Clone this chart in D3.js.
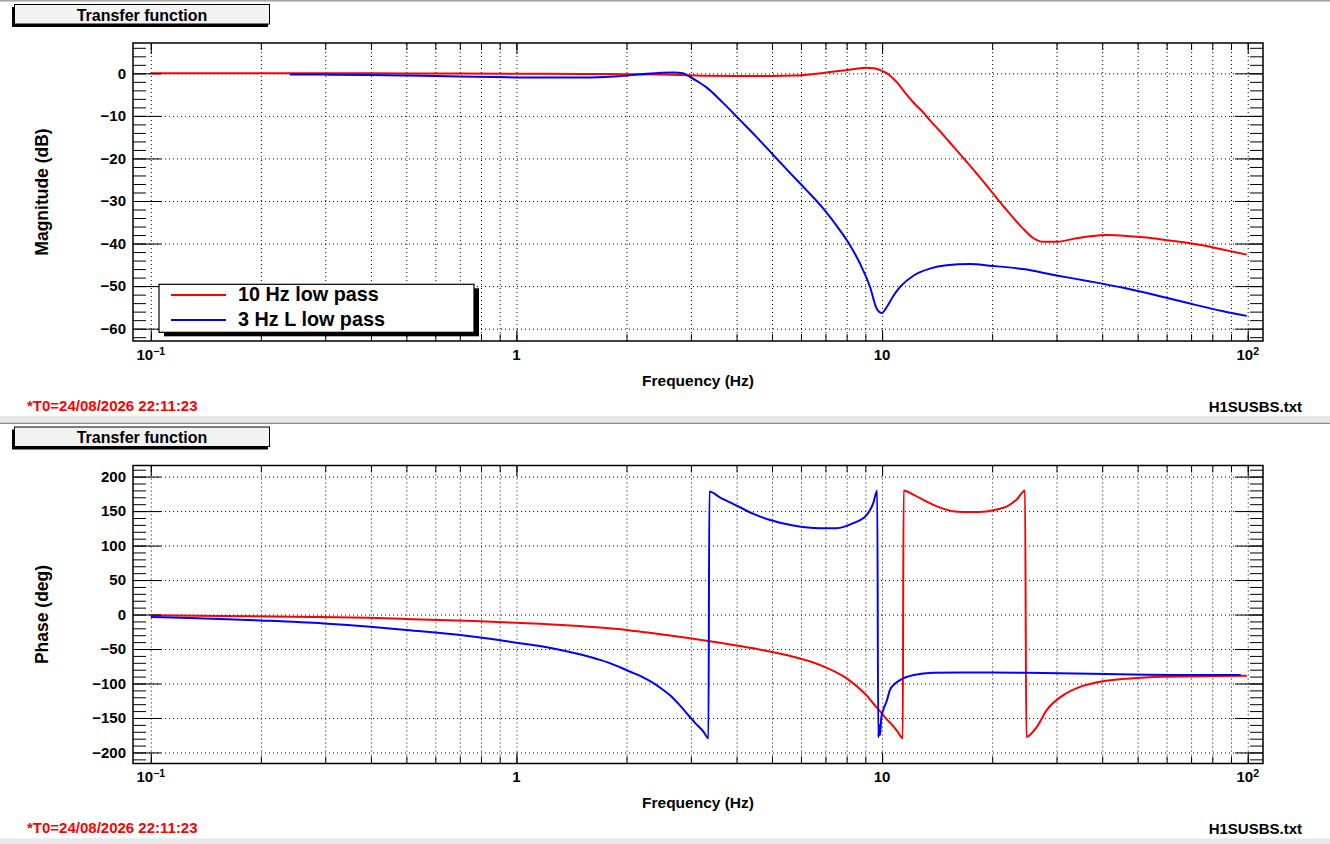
<!DOCTYPE html>
<html>
<head>
<meta charset="utf-8">
<title>Transfer function</title>
<script src="https://cdn.jsdelivr.net/npm/d3@7"></script>
<style>
  body { margin: 0; background: #fff; }
  svg { display: block; font-family: "Liberation Sans", Arial, Helvetica, sans-serif; font-weight: bold; }
  .grid line { stroke: #000; stroke-width: 1; stroke-dasharray: 1,3; }
  .grid path, .ax path { display: none; }
  .ax line { stroke: #000; stroke-width: 1; }
  .ax text { font-size: 15px; fill: #000; }
</style>
</head>
<body>
<script>

// ---- data ----
// magnitude, 10 Hz low pass (red)
var magFreqRed = [0.1, 0.2, 0.4, 0.7, 1.0, 1.5, 2.0, 2.5, 3.0, 3.3, 4.0, 5.0, 5.8, 6.5, 7.2, 7.7, 8.4, 9.05, 9.5, 9.85,
  10.2, 10.5, 11.0, 11.6, 12.2, 12.9, 13.6, 14.4, 15.2, 16.0, 17.6, 19.2, 20.8, 22.4, 24.3, 25.9, 27.6, 30.0,
  33.4, 37.1, 41.1, 46.7, 52.9, 60.0, 68.1, 77.2, 87.6, 99.4];
var magRed = [0, 0, 0, -0.05, -0.1, -0.15, -0.2, -0.25, -0.45, -0.55, -0.6, -0.6, -0.5, -0.15, 0.3, 0.6, 1.0, 1.3, 1.2, 0.8,
  0.2, -0.5, -2.2, -4.7, -6.9, -9.0, -11.3, -13.6, -15.9, -18.1, -22.2, -26.1, -29.8, -33.1, -36.5, -38.7, -39.6, -39.6,
  -38.9, -38.3, -38.0, -38.2, -38.6, -39.2, -39.8, -40.6, -41.6, -42.6];

// magnitude, 3 Hz L low pass (blue)
var magFreqBlue = [0.24, 0.3, 0.4, 0.5, 0.7, 1.0, 1.3, 1.6, 1.9, 2.2, 2.5, 2.7, 2.85, 2.98, 3.13, 3.31, 3.68, 4.09, 4.54,
  5.04, 5.6, 6.22, 6.91, 7.67, 8.17, 8.7, 9.27, 9.67, 9.98, 10.3, 10.7, 11.2, 12.2, 13.5, 15.0, 17.4, 19.7, 24.3,
  30.0, 37.1, 45.7, 56.4, 69.5, 85.7, 99.4];
var magBlue = [-0.3, -0.3, -0.4, -0.5, -0.75, -0.95, -1.0, -0.95, -0.7, -0.2, 0.15, 0.2, 0.0, -0.8, -1.9, -3.3, -7.0, -11.0, -15.0,
  -19.2, -23.4, -27.5, -31.8, -36.9, -40.4, -44.7, -50.2, -55.3, -56.3, -54.9, -52.5, -50.2, -47.5, -45.9, -45.1, -44.8, -45.2, -46.0,
  -47.5, -48.9, -50.4, -52.2, -54.1, -55.9, -57.0];

// phase, 10 Hz low pass (red)
var phFreqRed = [0.1, 0.155, 0.275, 0.394, 0.517, 0.762, 1.0, 1.4, 1.73, 2.05, 2.37, 2.92, 3.6, 4.45, 5.47, 6.76, 8.0, 8.7,
  9.1, 9.46, 9.87, 10.3, 10.7, 11.0, 11.39, 11.45, 12.2, 13.5, 14.6, 15.8, 17.5, 19.3, 21.0, 21.9, 23.3, 24.6, 24.8,
  26.5, 28.2, 31.3, 34.8, 39.4, 47.6, 58.7, 80.5, 99.4];
var phRed = [-1, -2, -3.4, -4.8, -6.7, -9.4, -12, -15.8, -19.3, -23, -27.2, -33.6, -40.9, -49, -58.7, -73.2, -92.6, -108,
  -118, -129, -140, -152, -161, -169, -179.5, 180, 173.6, 161.5, 154, 149.5, 148.5, 149.5, 153.5, 156.6, 166.3, 180, -177.4,
  -162.8, -138.6, -116.8, -104.8, -97.5, -92.6, -90.2, -89.2, -88.8];

// phase, 3 Hz L low pass (blue)
var phFreqBlue = [0.1, 0.134, 0.199, 0.297, 0.398, 0.5, 0.702, 1.0, 1.17, 1.34, 1.5, 1.66, 1.8, 1.92, 2.05, 2.2, 2.37, 2.5,
  2.63, 2.78, 2.92, 3.08, 3.25, 3.35,
  3.37, 3.6, 4.0, 4.45, 4.94, 5.72, 6.76, 7.51, 8.34, 9.08, 9.46, 9.7, 9.76, 9.83, 9.87, 9.95, 10.08, 10.3, 10.5, 10.8,
  11.2, 12.2, 13.8, 20.0, 24.9, 41.1, 80.5, 95.7];
var phBlue = [-3.4, -5.3, -8.6, -12.9, -17.7, -22.5, -29.7, -40.8, -46, -52, -58, -64.5, -70.5, -76.5, -83, -90, -99.5, -108,
  -117, -130, -143, -157, -170, -179.5,
  178.3, 170, 158, 146, 137, 129, 125.2, 125.2, 132.5, 144.5, 161.5, 180, -178, -160, -175, -150, -138, -125, -109.5, -101,
  -95, -87.8, -84.4, -84, -84.4, -86.3, -87.8, -87.8];

// ticks and labels
var magTicks = [-60, -50, -40, -30, -20, -10, 0];
var magMinor = d3.range(-62, 7, 2);
var phTicks = [-200, -150, -100, -50, 0, 50, 100, 150, 200];
var phMinor = d3.range(-210, 211, 10);
var decades = [0.1, 1, 10, 100];
var decadeBase = ["10", "1", "10", "10"];
var decadeExp = ["\u22121", "", "", "2"];
var legendLabels = ["10 Hz low pass", "3 Hz L low pass"];
var seriesColors = ["#ff0000", "#0000ff"];

var logMinor = [];
[0.1, 1, 10].forEach(function (d) {
  for (var k = 1; k <= 9; k++) logMinor.push(+(d * k).toPrecision(3));
});
logMinor.push(100);

// ---- layout ----
var W = 1330, H = 844;
var fr = { left: 133, right: 1263, top: 43, bottom: 341 };
var fw = fr.right - fr.left, fh = fr.bottom - fr.top;

var svg = d3.select("body").append("svg").attr("width", W).attr("height", H);

// pad separators
svg.append("rect").attr("x", 0).attr("y", 0).attr("width", W).attr("height", 1.6).attr("fill", "#a8a8a8");
svg.append("rect").attr("x", 0).attr("y", 416).attr("width", W).attr("height", 6.7).attr("fill", "#e8e8e8");
svg.append("rect").attr("x", 0).attr("y", 422.7).attr("width", W).attr("height", 1.3).attr("fill", "#8c8c8c");
svg.append("rect").attr("x", 0).attr("y", 838.3).attr("width", W).attr("height", 6).attr("fill", "#e8e8e8");

var x = d3.scaleLog().domain([0.0894, 110.1]).range([fr.left, fr.right]);

var panels = [
  { dy: 0, domain: [-62.9, 7.13], major: magTicks, minor: magMinor, title: "Magnitude (dB)",
    series: [[magFreqRed, magRed], [magFreqBlue, magBlue]], legend: true },
  { dy: 422.5, domain: [-216, 216.1], major: phTicks, minor: phMinor, title: "Phase (deg)",
    series: [[phFreqRed, phRed], [phFreqBlue, phBlue]], legend: false }
];

panels.forEach(function (p, pi) {
  var g = svg.append("g").attr("transform", "translate(0," + p.dy + ")");
  var y = d3.scaleLinear().domain(p.domain).range([fr.bottom, fr.top]);

  // title box with shadow
  g.append("rect").attr("x", 12).attr("y", 7).attr("width", 256).attr("height", 20).attr("fill", "#000");
  g.append("rect").attr("x", 14.5).attr("y", 4.5).attr("width", 255).attr("height", 19.5)
    .attr("fill", "#f2f2f2").attr("stroke", "#000").attr("stroke-width", 1);
  g.append("text").attr("x", 142).attr("y", 20.5).attr("text-anchor", "middle")
    .attr("font-size", "16px").text("Transfer function");

  // grid
  g.append("g").attr("class", "grid").attr("transform", "translate(0," + fr.bottom + ")")
    .call(d3.axisBottom(x).tickValues(logMinor).tickSize(-fh).tickFormat(""));
  g.append("g").attr("class", "grid").attr("transform", "translate(" + fr.left + ",0)")
    .call(d3.axisLeft(y).tickValues(p.major).tickSize(-fw).tickFormat(""));

  // curves
  var clipId = "clip" + pi;
  g.append("clipPath").attr("id", clipId).append("rect")
    .attr("x", fr.left).attr("y", fr.top).attr("width", fw).attr("height", fh);
  var line = d3.line()
    .x(function (d) { return x(d[0]); })
    .y(function (d) { return y(d[1]); })
    .curve(d3.curveMonotoneX);
  p.series.forEach(function (s, si) {
    var pts = s[0].map(function (f, i) { return [f, s[1][i]]; });
    g.append("path").datum(pts).attr("d", line).attr("clip-path", "url(#" + clipId + ")")
      .attr("fill", "none").attr("stroke", seriesColors[si]).attr("stroke-width", 2)
      .attr("stroke-linejoin", "round");
  });

  // axes: ticks point inward
  g.append("g").attr("class", "ax").attr("transform", "translate(" + fr.left + ",0)")
    .call(d3.axisLeft(y).tickValues(p.minor).tickSize(-13).tickFormat(""));
  g.append("g").attr("class", "ax").attr("transform", "translate(" + fr.left + ",0)")
    .call(d3.axisLeft(y).tickValues(p.major).tickSize(-28).tickPadding(7));
  g.append("g").attr("class", "ax").attr("transform", "translate(" + fr.right + ",0)")
    .call(d3.axisRight(y).tickValues(p.minor).tickSize(-13).tickFormat(""));
  g.append("g").attr("class", "ax").attr("transform", "translate(" + fr.right + ",0)")
    .call(d3.axisRight(y).tickValues(p.major).tickSize(-28).tickFormat(""));
  g.append("g").attr("class", "ax").attr("transform", "translate(0," + fr.bottom + ")")
    .call(d3.axisBottom(x).tickValues(logMinor).tickSize(-7).tickFormat(""));
  g.append("g").attr("class", "ax").attr("transform", "translate(0," + fr.bottom + ")")
    .call(d3.axisBottom(x).tickValues(decades).tickSize(-11).tickFormat(""));
  g.append("g").attr("class", "ax").attr("transform", "translate(0," + fr.top + ")")
    .call(d3.axisTop(x).tickValues(logMinor).tickSize(-7).tickFormat(""));
  g.append("g").attr("class", "ax").attr("transform", "translate(0," + fr.top + ")")
    .call(d3.axisTop(x).tickValues(decades).tickSize(-11).tickFormat(""));

  // frame
  g.append("rect").attr("x", fr.left).attr("y", fr.top).attr("width", fw).attr("height", fh)
    .attr("fill", "none").attr("stroke", "#000").attr("stroke-width", 1.5);

  // decade labels with exponents
  decades.forEach(function (d, i) {
    var t = g.append("text").attr("x", x(d)).attr("y", 359.5).attr("text-anchor", "middle")
      .attr("font-size", "15px");
    t.append("tspan").text(decadeBase[i]);
    if (decadeExp[i]) t.append("tspan").attr("font-size", "10.5px").attr("dy", -5).text(decadeExp[i]);
  });

  // axis titles
  g.append("text").attr("x", (fr.left + fr.right) / 2).attr("y", 385.5).attr("text-anchor", "middle")
    .attr("font-size", "15.5px").text("Frequency (Hz)");
  g.append("text").attr("transform", "translate(48," + (fr.top + fr.bottom) / 2 + ") rotate(-90)")
    .attr("text-anchor", "middle").attr("font-size", "17.5px").text(p.title);

  // footer
  g.append("text").attr("x", 27).attr("y", 410.5).attr("font-size", "15px").attr("fill", "#ff0000")
    .text("*T0=24/08/2026 22:11:23");
  g.append("text").attr("x", 1302).attr("y", 411.5).attr("font-size", "15px").attr("text-anchor", "end")
    .text("H1SUSBS.txt");

  // legend
  if (p.legend) {
    var lx = 159, ly = 284.3, lw = 315, lh = 48;
    g.append("rect").attr("x", lx + 5).attr("y", ly + 4).attr("width", lw).attr("height", lh).attr("fill", "#000");
    g.append("rect").attr("x", lx).attr("y", ly).attr("width", lw).attr("height", lh)
      .attr("fill", "#fff").attr("stroke", "#000").attr("stroke-width", 1.2);
    legendLabels.forEach(function (lab, i) {
      var yy = 295 + i * 25;
      g.append("line").attr("x1", 171).attr("x2", 226).attr("y1", yy).attr("y2", yy)
        .attr("stroke", seriesColors[i]).attr("stroke-width", 2);
      g.append("text").attr("x", 238).attr("y", yy + 6.3).attr("font-size", "19.8px").text(lab);
    });
  }
});

</script>
</body>
</html>
